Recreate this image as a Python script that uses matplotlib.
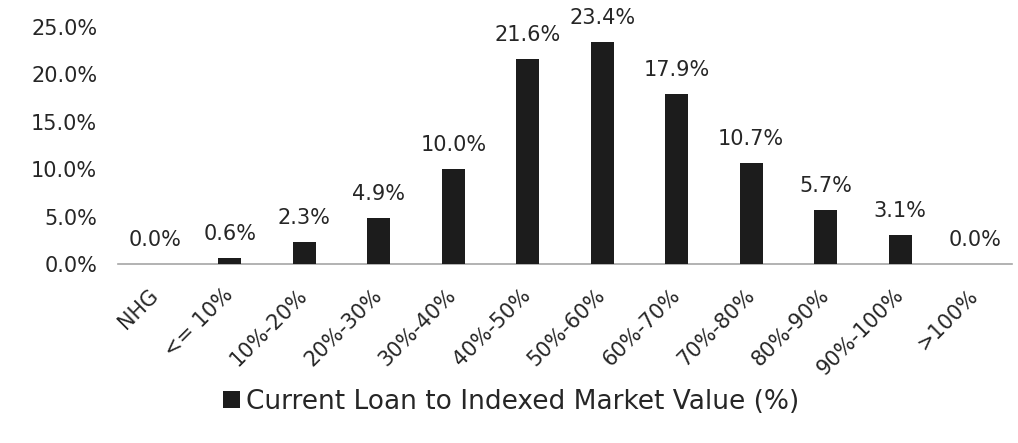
import matplotlib
matplotlib.use("Agg")
import matplotlib.pyplot as plt
from matplotlib.ticker import FuncFormatter
from matplotlib.patches import Patch
from matplotlib.transforms import ScaledTranslation

categories = ["NHG", "<= 10%", "10%-20%", "20%-30%", "30%-40%", "40%-50%",
              "50%-60%", "60%-70%", "70%-80%", "80%-90%", "90%-100%", ">100%"]
values = [0.0, 0.6, 2.3, 4.9, 10.0, 21.6, 23.4, 17.9, 10.7, 5.7, 3.1, 0.0]
series_name = "Current Loan to Indexed Market Value (%)"

bar_color = "#1c1c1c"
text_color = "#262626"

plt.rcParams["font.family"] = ["DejaVu Sans"]

fig = plt.figure(figsize=(10.18, 4.43), dpi=100)
ax = fig.add_axes([0.116, 0.404, 0.878, 0.535])

x = list(range(len(categories)))
bars = ax.bar(x, values, width=0.31, color=bar_color, zorder=3)

ax.set_xlim(-0.5, len(categories) - 0.5)
ax.set_ylim(0, 25)
ax.set_yticks([0, 5, 10, 15, 20, 25])
ax.yaxis.set_major_formatter(FuncFormatter(lambda v, p: f"{v:.1f}%"))

for spine in ["top", "right", "left"]:
    ax.spines[spine].set_visible(False)
ax.spines["bottom"].set_color("#a6a6a6")
ax.spines["bottom"].set_linewidth(1.2)
ax.tick_params(axis="both", length=0, labelsize=15, colors=text_color)
ax.tick_params(axis="y", pad=15)

ax.set_xticks(x)
ax.set_xticklabels(categories, rotation=45, ha="right", rotation_mode="anchor")
shift = ScaledTranslation(-0.07, -0.16, fig.dpi_scale_trans)
for lbl in ax.get_xticklabels():
    lbl.set_transform(lbl.get_transform() + shift)

for rect, v in zip(bars, values):
    ax.annotate(f"{v:.1f}%", (rect.get_x() + rect.get_width() / 2, v),
                xytext=(0, 10), textcoords="offset points",
                ha="center", va="bottom", fontsize=15, color=text_color,
                annotation_clip=False)

handle = Patch(facecolor=bar_color, edgecolor="none")
fig.legend([handle], [series_name], loc="center", bbox_to_anchor=(0.502, 0.093),
           frameon=False, handlelength=0.65, handleheight=0.65,
           handletextpad=0.25, labelcolor=text_color,
           prop={"family": "DejaVu Sans", "size": 19})

fig.savefig("out.png", dpi=100)
